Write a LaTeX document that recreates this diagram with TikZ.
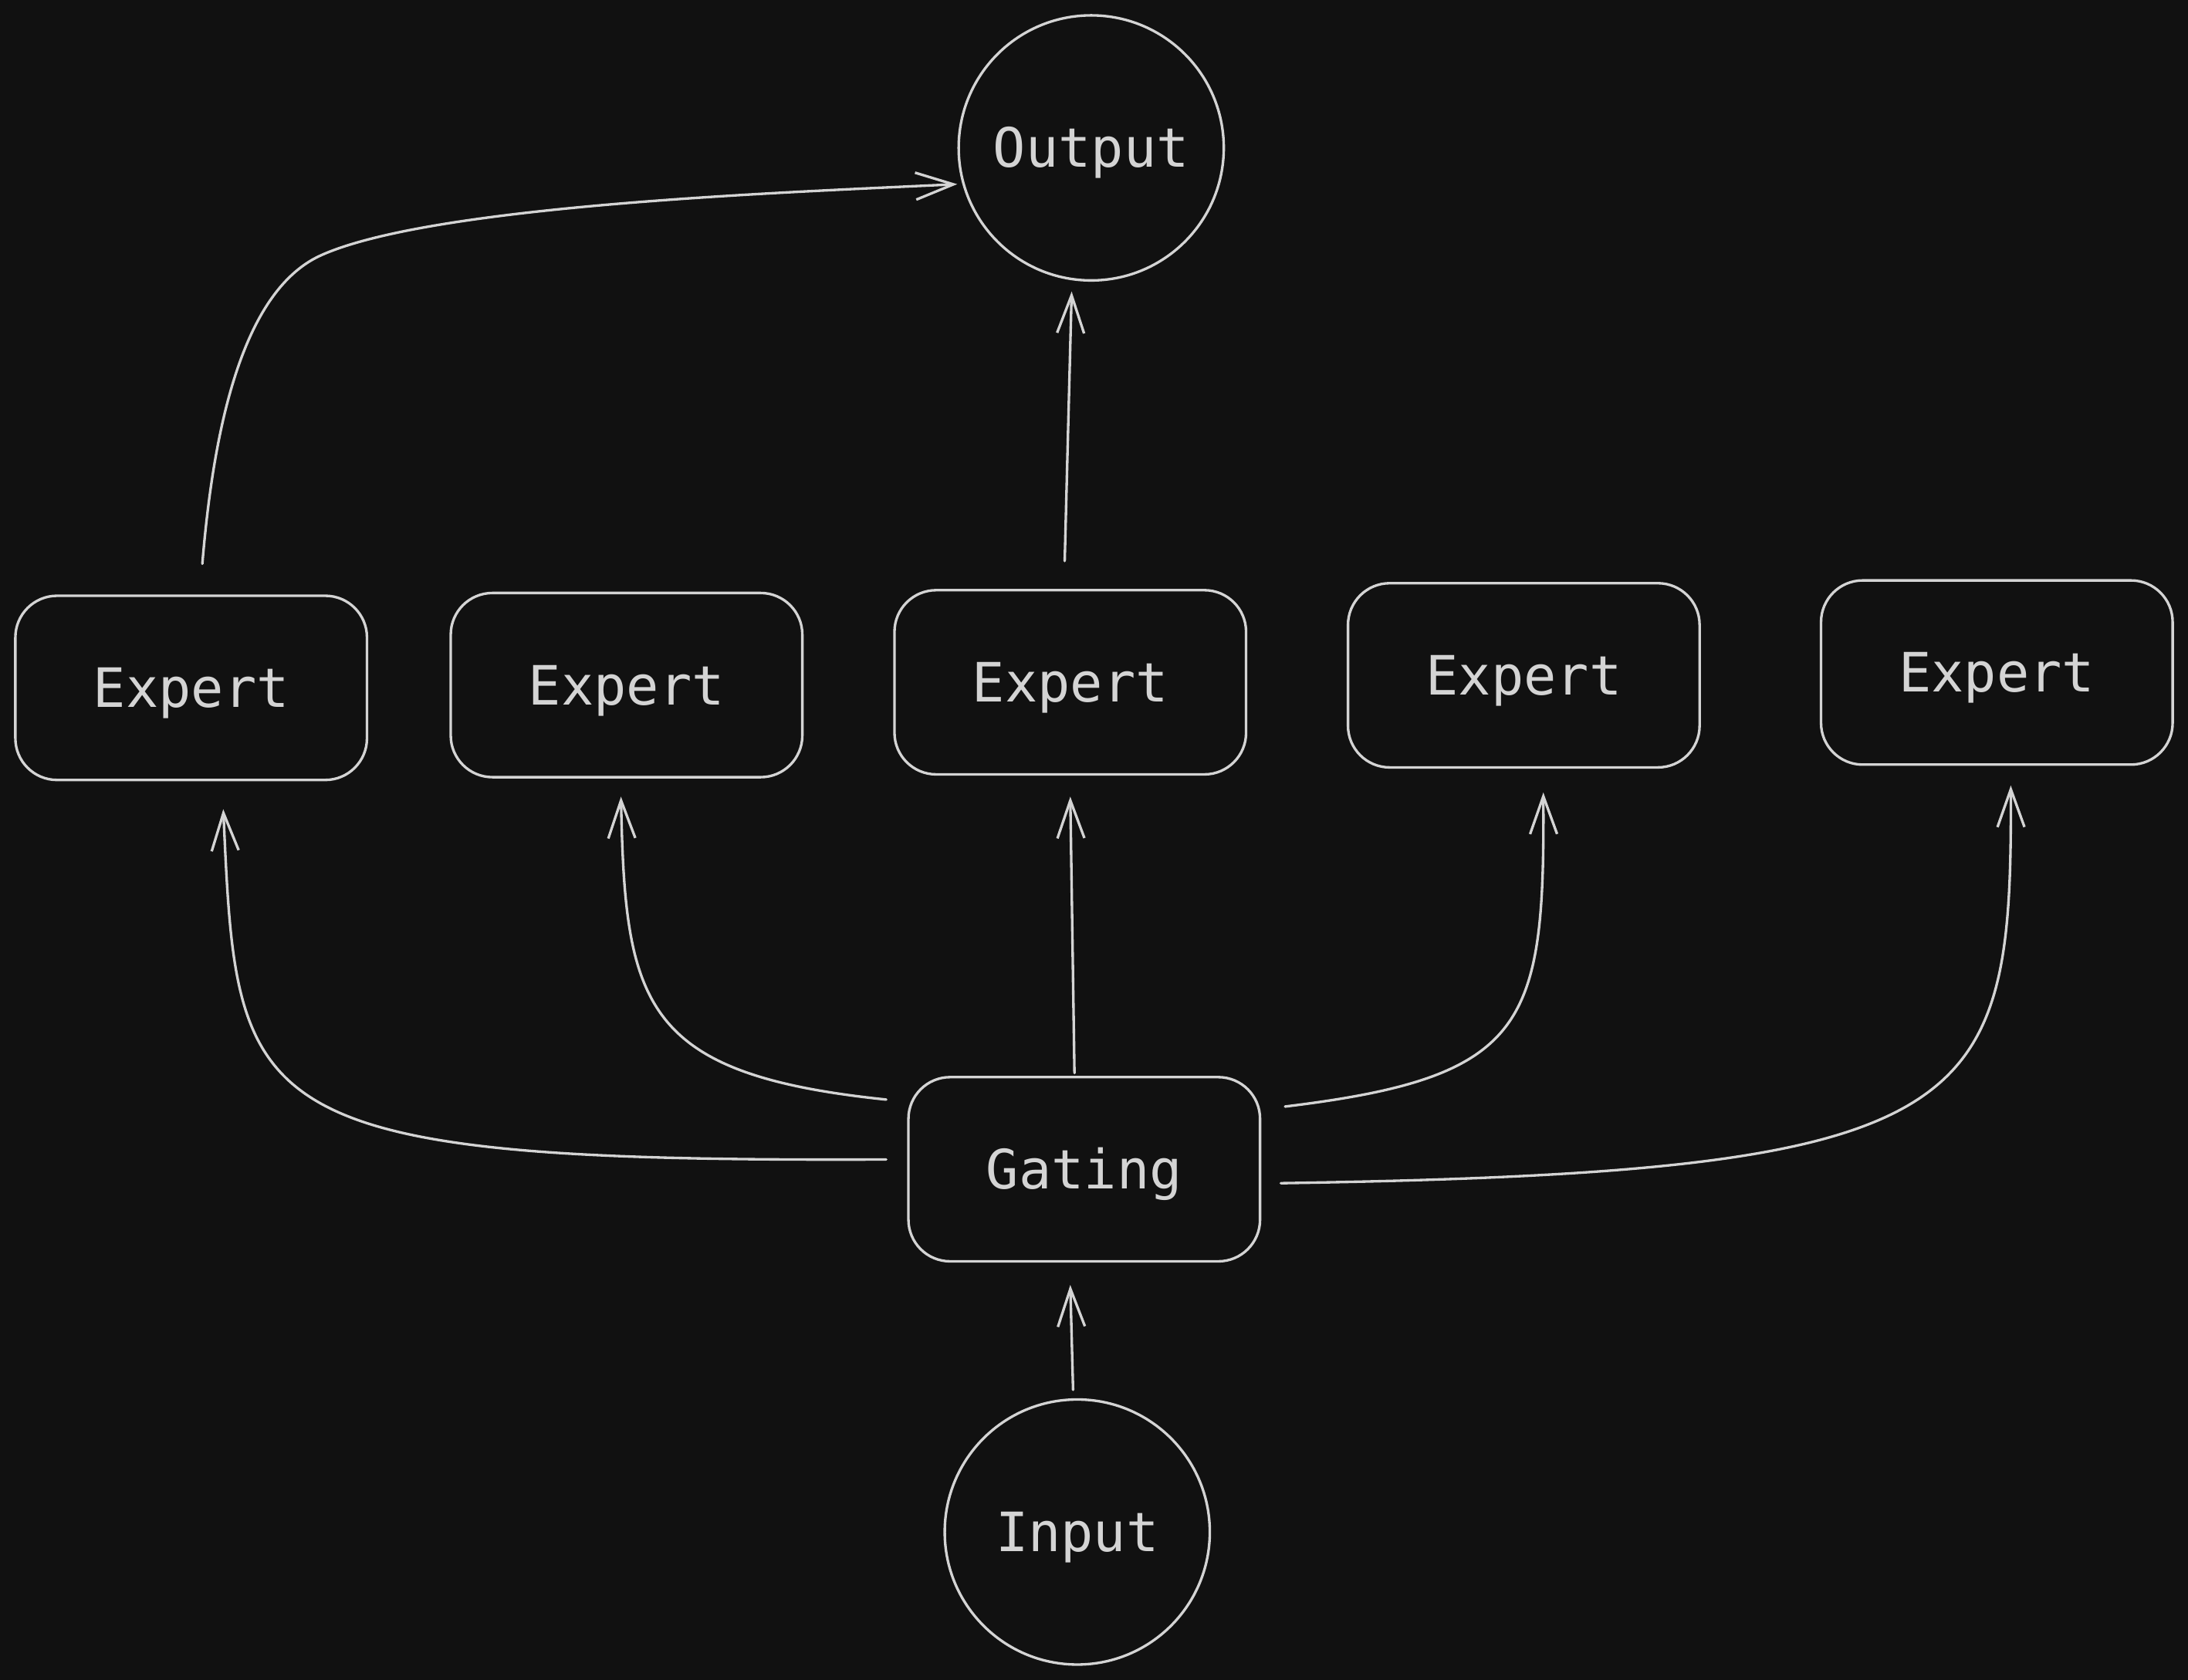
\documentclass[tikz,border=0pt]{standalone}
\usepackage{fontspec}
\setmonofont{DejaVu Sans Mono}
\usetikzlibrary{arrows.meta,calc}
\definecolor{bgc}{HTML}{111111}
\definecolor{fgc}{HTML}{D4D4D4}
\begin{document}
\begin{tikzpicture}[x=0.01808cm,y=-0.01808cm,
  lbl/.style={text=fgc, font=\ttfamily\fontsize{20}{24}\selectfont, text height=14.4pt, text depth=0pt, inner sep=0pt},
  box/.style={lbl, draw=fgc, line width=0.95pt, rounded corners=0.54cm, minimum width=4.556cm, minimum height=2.387cm},
  circ/.style={lbl, circle, draw=fgc, line width=0.95pt, minimum size=3.435cm},
  arr/.style={draw=fgc, line width=0.95pt, line cap=round, line join=round, -{Straight Barb[length=0.49cm,width=0.35cm]}}]
\fill[bgc] (0,0) rectangle (1568,1204);
\useasboundingbox (0,0) rectangle (1568,1204);

\node[circ] (out) at (782,106) {Output};
\node[circ] (in) at (772,1098) {Input};
\node[box] (e1) at (137,493) {Expert};
\node[box] (e2) at (449,491) {Expert};
\node[box] (e3) at (767,489) {Expert};
\node[box] (e4) at (1092,484) {Expert};
\node[box] (e5) at (1431,482) {Expert};
\node[box] (g) at (777,838) {Gating};

% free ends of connectors
\coordinate (g1) at ($(g.west)+(-15,-7)$);
\coordinate (g2) at ($(g.north west)+(-15,17)$);
\coordinate (g3) at ($(g.north)+(-7,-2)$);
\coordinate (g4) at ($(g.north east)+(17,22)$);
\coordinate (g5) at ($(g.east)+(14,10)$);
\coordinate (e1in) at ($(e1.south)+(23,20)$);
\coordinate (e2in) at ($(e2.south)+(-4,13)$);
\coordinate (e3in) at ($(e3.south)+(0,15)$);
\coordinate (e4in) at ($(e4.south)+(14,17)$);
\coordinate (e5in) at ($(e5.south)+(10,14)$);
\coordinate (e1out) at ($(e1.north)+(8,-22)$);
\coordinate (e3out) at ($(e3.north)+(-4,-20)$);
\coordinate (outw) at ($(out.center)+(-96,26)$);
\coordinate (outs) at ($(out.south)+(-14,7)$);
\coordinate (ins) at ($(in.north)+(-3,-6)$);
\coordinate (gin) at ($(g.south)+(-10,16)$);

\draw[arr] (g1) .. controls (170,833) and (170,800) .. (e1in);
\draw[arr] (g2) .. controls (460,770) and (448,720) .. (e2in);
\draw[arr] (g3) -- (e3in);
\draw[arr] (g4) .. controls (1095,772) and (1107,735) .. (e4in);
\draw[arr] (g5) .. controls (1420,840) and (1442,800) .. (e5in);
\draw[arr] (ins) -- (gin);
\draw[arr] (e3out) -- (outs);
\draw[arr] (e1out) .. controls (152,320) and (170,210) .. (230,183)
                   .. controls (310,147) and (560,138) .. (outw);
\end{tikzpicture}
\end{document}
